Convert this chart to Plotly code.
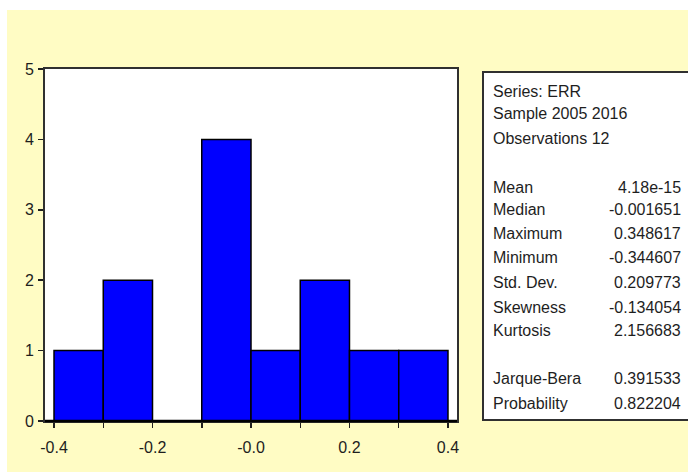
import plotly.graph_objects as go

# Data
bin_centers = [-0.35, -0.25, -0.15, -0.05, 0.05, 0.15, 0.25, 0.35]
counts = [1, 2, 0, 4, 1, 2, 1, 1]
x_tickvals = [-0.4, -0.3, -0.2, -0.1, 0.0, 0.1, 0.2, 0.3, 0.4]
x_ticktext = ["-0.4", "", "-0.2", "", "-0.0", "", "0.2", "", "0.4"]
y_tickvals = [0, 1, 2, 3, 4, 5]

stat_header = ["Series: ERR", "Sample 2005 2016", "Observations 12"]
stat_labels = ["Mean", "Median", "Maximum", "Minimum", "Std. Dev.", "Skewness", "Kurtosis",
               "Jarque-Bera", "Probability"]
stat_values = ["4.18e-15", "-0.001651", "0.348617", "-0.344607", "0.209773", "-0.134054",
               "2.156683", "0.391533", "0.822204"]

W, H = 688, 472
L, R, T, B = 45, 457, 69, 421
FONT = "Liberation Sans, Arial, sans-serif"
TXT = "#1e1e1e"


def px(x):
    return (x - L) / (R - L)


def py(y):
    return (B - y) / (B - T)


fig = go.Figure()
fig.add_trace(go.Bar(
    x=bin_centers, y=counts, width=0.1,
    marker=dict(color="#0000FF", line=dict(color="black", width=1.5)),
    showlegend=False, hoverinfo="skip"))

shapes = [
    # white strips at top and left of the yellow page
    dict(type="rect", xref="paper", yref="paper", x0=px(-5), x1=px(W + 5), y0=py(10), y1=py(-5),
         fillcolor="white", line=dict(width=0), layer="above"),
    dict(type="rect", xref="paper", yref="paper", x0=px(-5), x1=px(7), y0=py(H + 5), y1=py(-5),
         fillcolor="white", line=dict(width=0), layer="above"),
    # stats box
    dict(type="rect", xref="paper", yref="paper", x0=px(483), x1=px(W + 10), y0=py(420), y1=py(72),
         fillcolor="white", line=dict(color="#303030", width=2), layer="below"),
    # heavy baseline
    dict(type="line", xref="paper", yref="paper", x0=0, x1=1, y0=0, y1=0,
         line=dict(color="black", width=2.5), layer="above"),
]

annotations = []
header_y = [91, 114, 138]
for txt, yy in zip(stat_header, header_y):
    annotations.append(dict(xref="paper", yref="paper", x=px(491), y=py(yy), text=txt,
                            showarrow=False, xanchor="left", yanchor="middle",
                            font=dict(family=FONT, size=16, color=TXT)))
label_y = [187, 210, 233, 257, 282, 307, 330, 378, 403]
for lab, val, yy in zip(stat_labels, stat_values, label_y):
    annotations.append(dict(xref="paper", yref="paper", x=px(491), y=py(yy), text=lab,
                            showarrow=False, xanchor="left", yanchor="middle",
                            font=dict(family=FONT, size=16, color=TXT)))
    annotations.append(dict(xref="paper", yref="paper", x=px(683), y=py(yy), text=val,
                            showarrow=False, xanchor="right", yanchor="middle",
                            font=dict(family=FONT, size=16, color=TXT)))

fig.update_layout(
    width=W, height=H,
    margin=dict(l=L, r=W - R, t=T, b=H - B, pad=0),
    paper_bgcolor="#FFFCC4",
    plot_bgcolor="white",
    bargap=0,
    shapes=shapes,
    annotations=annotations,
    xaxis=dict(range=[-0.4183, 0.4183], tickvals=x_tickvals, ticktext=x_ticktext,
               ticks="outside", ticklen=5, tickwidth=1.5, tickcolor="#202020",
               showline=True, linecolor="#303030", linewidth=2, mirror=True,
               showgrid=False, zeroline=False, ticklabelstandoff=6,
               tickfont=dict(family=FONT, size=16, color=TXT)),
    yaxis=dict(range=[0, 5], tickvals=y_tickvals,
               ticks="outside", ticklen=5, tickwidth=1.5, tickcolor="#202020",
               showline=True, linecolor="#303030", linewidth=2, mirror=True,
               showgrid=False, zeroline=False, ticklabelstandoff=1,
               tickfont=dict(family=FONT, size=16, color=TXT)),
)

fig.write_html("out.html", config={"displayModeBar": False, "staticPlot": True},
               post_script="document.body.style.margin='0';document.body.style.overflow='hidden';")
